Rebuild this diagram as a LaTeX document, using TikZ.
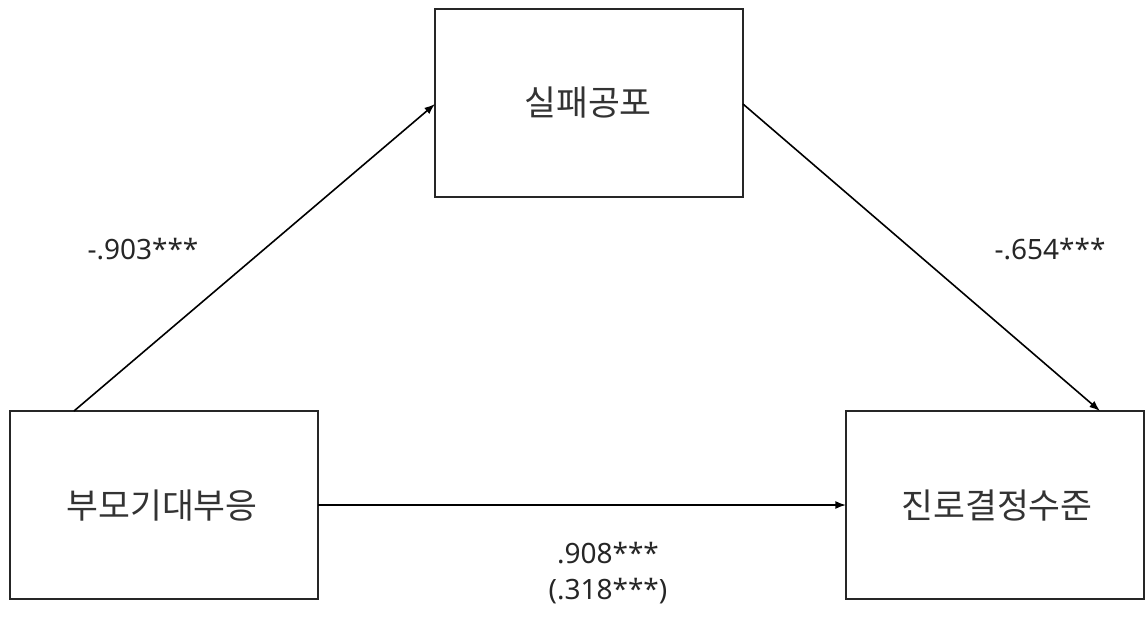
\documentclass[tikz,border=0pt]{standalone}
\usepackage{fontspec}
\setmainfont{Noto Sans}
\newfontfamily\kr{Noto Sans CJK KR}
\usetikzlibrary{arrows.meta}
\begin{document}
\begin{tikzpicture}[x=0.75pt,y=-0.75pt,
  boxnode/.style={draw=black!85,line width=1.4pt,inner sep=0pt},
  ktext/.style={font=\kr\fontsize{26}{30}\selectfont,text=black!80},
  coef/.style={font=\fontsize{21}{25}\selectfont,text=black!85,align=center},
  conn/.style={line width=1.2pt,-{Latex[length=8pt,width=6pt]}}]
\useasboundingbox (0,0) rectangle (1147,617);
\draw[boxnode] (435,9) rectangle (743,197);
\draw[boxnode] (10,411) rectangle (318,599);
\draw[boxnode] (846,411) rectangle (1144,599);
\node[ktext] (fear) at (588,103) {실패공포};
\node[ktext] (parent) at (162,506) {부모기대부응};
\node[ktext] (career) at (997,506) {진로결정수준};
\coordinate (a1) at (74,411);
\coordinate (a2) at (435,104);
\coordinate (b1) at (743,104);
\coordinate (b2) at (1100,411);
\coordinate (c1) at (318,505);
\coordinate (c2) at (846,505);
\draw[conn] (a1) -- (a2);
\draw[conn] (b1) -- (b2);
\draw[conn] (c1) -- (c2);
\node[coef] (l1) at (143,249) {-.903***};
\node[coef] (l2) at (1050,249) {-.654***};
\node[coef] (l3) at (608,553) {.908***};
\node[coef] (l4) at (608,591) {(.318***)};
\end{tikzpicture}
\end{document}
